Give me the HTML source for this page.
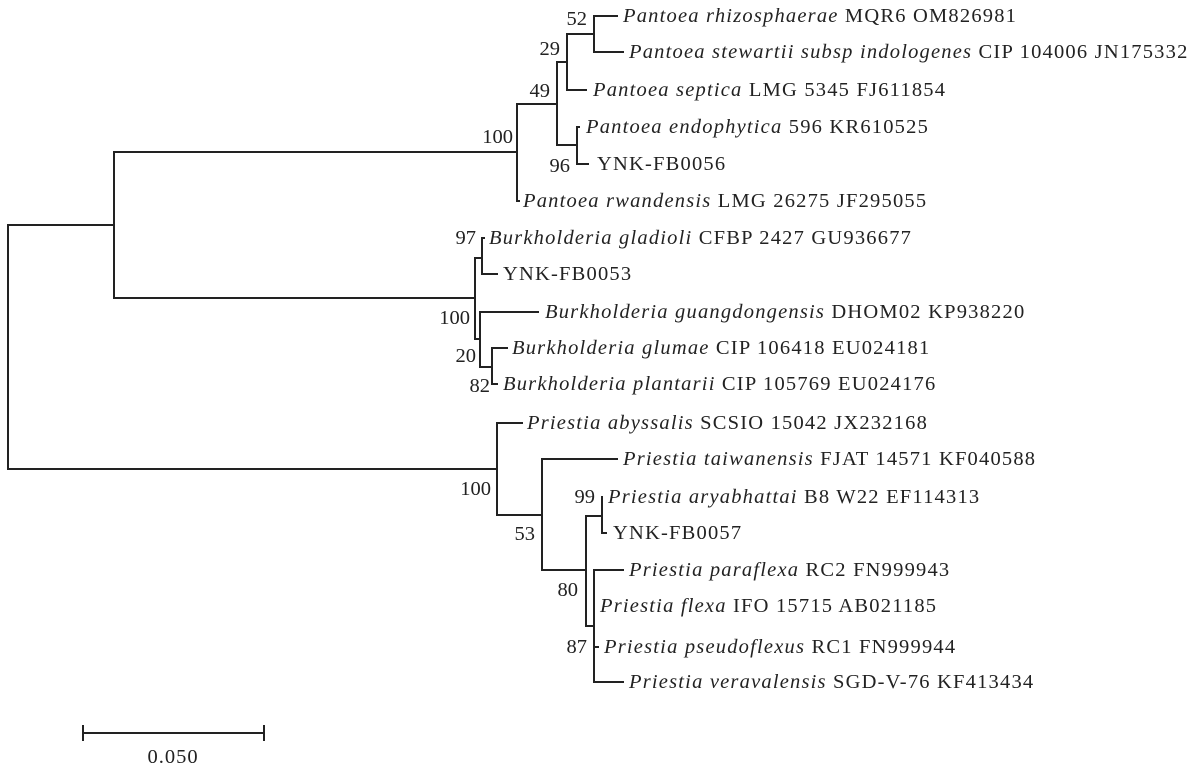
<!DOCTYPE html>
<html><head><meta charset="utf-8"><style>
body{margin:0;background:#fff}
svg{display:block}
text{font-family:"Liberation Serif",serif;font-size:20.5px;fill:#222}
.l text{letter-spacing:1.2px}
.i{font-style:italic}
</style></head><body>
<svg width="1193" height="773" viewBox="0 0 1193 773" xmlns="http://www.w3.org/2000/svg">
<g stroke="#222" stroke-width="2" fill="none" stroke-linecap="square">
<path d="M8 225V469M8 225H114M8 469H497"/>
<path d="M114 152V298M114 152H517M114 298H475"/>
<path d="M517 104V201H519M517 104H557M557 62V145M557 62H567M557 145H577"/>
<path d="M567 34V90H586M567 34H594M594 16V52M594 16H617M594 52H623"/>
<path d="M577 127V164M577 127H579M577 164H588"/>
<path d="M475 258V339M475 258H482M475 339H480M482 238V274M482 238H484M482 274H497"/>
<path d="M480 312V367M480 312H538M480 367H492M492 348V384M492 348H507M492 384H497"/>
<path d="M497 423V515M497 423H522M497 515H542M542 459V570M542 459H617M542 570H586"/>
<path d="M586 516V626M586 516H602M586 626H594M602 497V533M602 533H606"/>
<path d="M594 570V682M594 570H623M594 647H598M594 682H623"/>
<path d="M83 733H264M83 726V740M264 726V740"/>
</g>
<g class="l">
<text x="623" y="22"><tspan class="i">Pantoea rhizosphaerae</tspan> MQR6 OM826981</text>
<text x="629" y="58"><tspan class="i">Pantoea stewartii subsp indologenes</tspan> CIP 104006 JN175332</text>
<text x="593" y="96"><tspan class="i">Pantoea septica</tspan> LMG 5345 FJ611854</text>
<text x="586" y="133"><tspan class="i">Pantoea endophytica</tspan> 596 KR610525</text>
<text x="597" y="170">YNK-FB0056</text>
<text x="523" y="207"><tspan class="i">Pantoea rwandensis</tspan> LMG 26275 JF295055</text>
<text x="489" y="244"><tspan class="i">Burkholderia gladioli</tspan> CFBP 2427 GU936677</text>
<text x="503" y="280">YNK-FB0053</text>
<text x="545" y="318"><tspan class="i">Burkholderia guangdongensis</tspan> DHOM02 KP938220</text>
<text x="512" y="354"><tspan class="i">Burkholderia glumae</tspan> CIP 106418 EU024181</text>
<text x="503" y="390"><tspan class="i">Burkholderia plantarii</tspan> CIP 105769 EU024176</text>
<text x="527" y="429"><tspan class="i">Priestia abyssalis</tspan> SCSIO 15042 JX232168</text>
<text x="623" y="465"><tspan class="i">Priestia taiwanensis</tspan> FJAT 14571 KF040588</text>
<text x="608" y="503"><tspan class="i">Priestia aryabhattai</tspan> B8 W22 EF114313</text>
<text x="613" y="539">YNK-FB0057</text>
<text x="629" y="576"><tspan class="i">Priestia paraflexa</tspan> RC2 FN999943</text>
<text x="600" y="612"><tspan class="i">Priestia flexa</tspan> IFO 15715 AB021185</text>
<text x="604" y="653"><tspan class="i">Priestia pseudoflexus</tspan> RC1 FN999944</text>
<text x="629" y="688"><tspan class="i">Priestia veravalensis</tspan> SGD-V-76 KF413434</text>
</g>
<g text-anchor="end">
<text x="587" y="25">52</text>
<text x="560" y="55">29</text>
<text x="550" y="97">49</text>
<text x="513" y="143">100</text>
<text x="570" y="172">96</text>
<text x="476" y="244">97</text>
<text x="470" y="324">100</text>
<text x="476" y="362">20</text>
<text x="490" y="392">82</text>
<text x="491" y="495">100</text>
<text x="535" y="540">53</text>
<text x="578" y="596">80</text>
<text x="587" y="653">87</text>
<text x="595" y="503">99</text>
<text x="173" y="763" text-anchor="middle" style="letter-spacing:1px">0.050</text>
</g>
</svg>
</body></html>
